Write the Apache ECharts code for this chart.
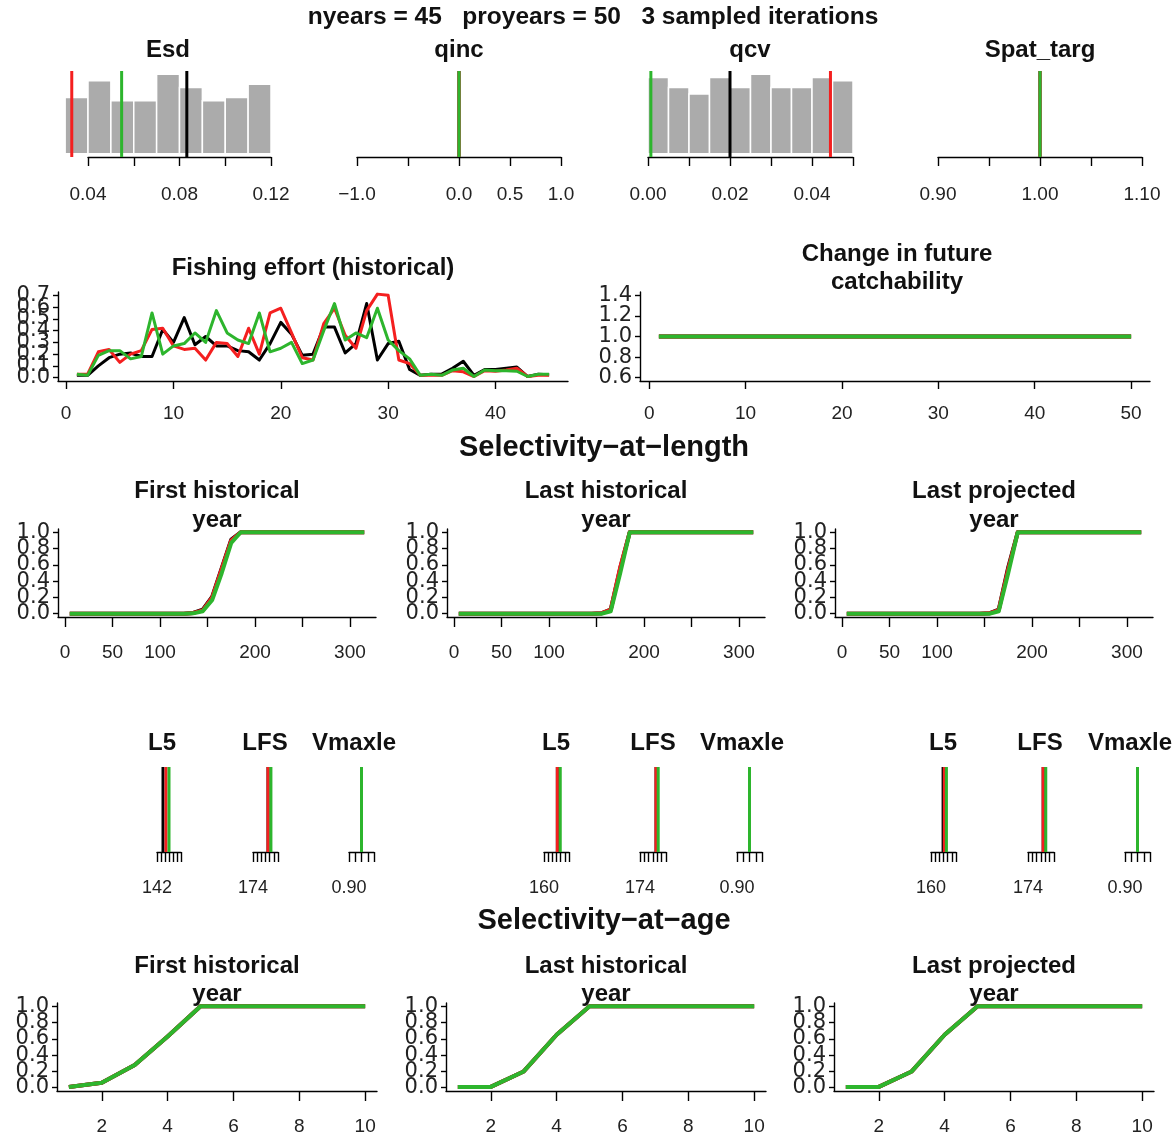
<!DOCTYPE html>
<html><head><meta charset="utf-8">
<script src="https://cdn.jsdelivr.net/npm/echarts@6/dist/echarts.min.js"></script>
<style>html,body{margin:0;padding:0;background:#fff}#c{width:1175px;height:1141px}</style>
</head><body><div id="c"></div>
<script>
// ---------------- DATA ----------------
// Row 1 histograms (bin edges, counts, and the three sampled iterations: black, red, green)
const esdEdges = [0.03,0.04,0.05,0.06,0.07,0.08,0.09,0.10,0.11,0.12];
const esdCounts = [17,22,16,16,24,20,16,17,21];
const esdSims = [0.0832,0.0329,0.0547];
const esdTicks = [0.04,0.06,0.08,0.10,0.12];
const esdLabels = [0.04,0.08,0.12];

const qincSims = [0,0,0];
const qincTicks = [-1,-0.5,0,0.5,1];
const qincLabels = [-1,0,0.5,1];

const qcvEdges = [0,0.005,0.01,0.015,0.02,0.025,0.03,0.035,0.04,0.045,0.05];
const qcvCounts = [23,20,18,23,20,24,20,20,23,22];
const qcvSims = [0.0200,0.0445,0.0007];
const qcvTicks = [0,0.01,0.02,0.03,0.04,0.05];
const qcvLabels = [0,0.02,0.04];

const spatSims = [1,1,1];
const spatTicks = [0.90,0.95,1.00,1.05,1.10];
const spatLabels = [0.90,1.00,1.10];

// Row 2: fishing effort (historical), years 1..45
const histYears = [1,2,3,4,5,6,7,8,9,10,11,12,13,14,15,16,17,18,19,20,21,22,23,24,25,26,27,28,29,30,31,32,33,34,35,36,37,38,39,40,41,42,43,44,45];
const effortBlack = [0.02,0.02,0.10,0.17,0.20,0.21,0.18,0.18,0.41,0.30,0.51,0.28,0.35,0.27,0.27,0.23,0.22,0.15,0.29,0.47,0.37,0.19,0.20,0.43,0.43,0.21,0.29,0.63,0.15,0.29,0.31,0.07,0.02,0.03,0.03,0.08,0.14,0.02,0.07,0.07,0.08,0.09,0.01,0.03,0.025];
const effortRed   = [0.03,0.03,0.22,0.24,0.13,0.20,0.23,0.41,0.42,0.27,0.24,0.25,0.15,0.30,0.29,0.18,0.42,0.20,0.55,0.59,0.38,0.17,0.15,0.46,0.59,0.36,0.25,0.57,0.71,0.70,0.15,0.12,0.02,0.02,0.02,0.06,0.05,0.01,0.06,0.055,0.065,0.08,0.01,0.02,0.02];
const effortGreen = [0.03,0.02,0.19,0.23,0.23,0.16,0.18,0.55,0.20,0.27,0.29,0.38,0.30,0.57,0.38,0.32,0.29,0.55,0.22,0.25,0.30,0.12,0.15,0.40,0.63,0.32,0.38,0.34,0.59,0.32,0.23,0.16,0.02,0.03,0.02,0.065,0.08,0.01,0.065,0.06,0.06,0.055,0.01,0.03,0.03];
const effortXTicks = [0,10,20,30,40];
const effortYTicks = [0,0.1,0.2,0.3,0.4,0.5,0.6,0.7];

// Row 2: change in future catchability, projection years 1..50
const projYears = [1,2,3,4,5,6,7,8,9,10,11,12,13,14,15,16,17,18,19,20,21,22,23,24,25,26,27,28,29,30,31,32,33,34,35,36,37,38,39,40,41,42,43,44,45,46,47,48,49,50];
const catchBlack = [1,1,1,1,1,1,1,1,1,1,1,1,1,1,1,1,1,1,1,1,1,1,1,1,1,1,1,1,1,1,1,1,1,1,1,1,1,1,1,1,1,1,1,1,1,1,1,1,1,1];
const catchRed   = [1,1,1,1,1,1,1,1,1,1,1,1,1,1,1,1,1,1,1,1,1,1,1,1,1,1,1,1,1,1,1,1,1,1,1,1,1,1,1,1,1,1,1,1,1,1,1,1,1,1];
const catchGreen = [1,1,1,1,1,1,1,1,1,1,1,1,1,1,1,1,1,1,1,1,1,1,1,1,1,1,1,1,1,1,1,1,1,1,1,1,1,1,1,1,1,1,1,1,1,1,1,1,1,1];
const catchXTicks = [0,10,20,30,40,50];
const catchYTicks = [0.6,0.8,1.0,1.2,1.4];

// Row 3: selectivity-at-length (length bins 5..315)
const lengthBins = [5,15,25,35,45,55,65,75,85,95,105,115,125,135,145,155,165,175,185,195,205,215,225,235,245,255,265,275,285,295,305,315];
const selLenFirstBlack = [0,0,0,0,0,0,0,0,0,0,0,0,0,0.01,0.05,0.21,0.56,0.91,1,1,1,1,1,1,1,1,1,1,1,1,1,1];
const selLenFirstRed   = [0,0,0,0,0,0,0,0,0,0,0,0,0,0.01,0.04,0.20,0.55,0.90,1,1,1,1,1,1,1,1,1,1,1,1,1,1];
const selLenFirstGreen = [0,0,0,0,0,0,0,0,0,0,0,0,0,0.005,0.03,0.17,0.50,0.87,1,1,1,1,1,1,1,1,1,1,1,1,1,1];
const selLenLastHBlack = [0,0,0,0,0,0,0,0,0,0,0,0,0,0,0,0.005,0.05,0.56,1,1,1,1,1,1,1,1,1,1,1,1,1,1];
const selLenLastHRed   = [0,0,0,0,0,0,0,0,0,0,0,0,0,0,0,0.005,0.05,0.57,1,1,1,1,1,1,1,1,1,1,1,1,1,1];
const selLenLastHGreen = [0,0,0,0,0,0,0,0,0,0,0,0,0,0,0,0,0.03,0.50,1,1,1,1,1,1,1,1,1,1,1,1,1,1];
const selLenLastPBlack = [0,0,0,0,0,0,0,0,0,0,0,0,0,0,0,0.005,0.05,0.57,1,1,1,1,1,1,1,1,1,1,1,1,1,1];
const selLenLastPRed   = [0,0,0,0,0,0,0,0,0,0,0,0,0,0,0,0.005,0.045,0.55,1,1,1,1,1,1,1,1,1,1,1,1,1,1];
const selLenLastPGreen = [0,0,0,0,0,0,0,0,0,0,0,0,0,0,0,0,0.03,0.50,1,1,1,1,1,1,1,1,1,1,1,1,1,1];
const lenXTicks = [0,50,100,150,200,250,300];
const lenXLabels = [0,50,100,200,300];
const selYTicks = [0,0.2,0.4,0.6,0.8,1.0];

// Row 4: L5, LFS, Vmaxlen of the three iterations (black, red, green)
const l5First = [143.5,144.25,145.0];
const l5LastHist = [163.2,163.2,163.9];
const l5LastProj = [162.9,163.2,163.7];
const lfsFirst = [177.6,177.6,178.3];
const lfsLastHist = [177.7,177.7,178.2];
const lfsLastProj = [177.5,177.5,178.1];
const vmaxFirst = [1,1,1];
const vmaxLastHist = [1,1,1];
const vmaxLastProj = [1,1,1];
const l5FirstTicks = [142,143,144,145,146,147,148];
const l5LaterTicks = [160,161,162,163,164,165,166];
const lfsTicks = [174,175,176,177,178,179,180];
const vmaxTicks = [0.90,0.95,1.00,1.05,1.10];

// Row 5: selectivity-at-age
const ages = [1,2,3,4,5,6,7,8,9,10];
const selAgeFirstBlack = [0.01,0.06,0.28,0.63,1,1,1,1,1,1];
const selAgeFirstRed   = [0.01,0.06,0.28,0.63,1,1,1,1,1,1];
const selAgeFirstGreen = [0.01,0.06,0.28,0.63,1,1,1,1,1,1];
const selAgeLastHBlack = [0.01,0.01,0.20,0.65,1,1,1,1,1,1];
const selAgeLastHRed   = [0.01,0.01,0.20,0.65,1,1,1,1,1,1];
const selAgeLastHGreen = [0.01,0.01,0.20,0.65,1,1,1,1,1,1];
const selAgeLastPBlack = [0.01,0.01,0.20,0.65,1,1,1,1,1,1];
const selAgeLastPRed   = [0.01,0.01,0.20,0.65,1,1,1,1,1,1];
const selAgeLastPGreen = [0.01,0.01,0.20,0.65,1,1,1,1,1,1];
const ageXTicks = [2,4,6,8,10];

// ---------------- STYLE / BUILD ----------------
const FONT = '"Liberation Sans", Arial, Helvetica, sans-serif';
const YFONT = '"DejaVu Sans", "Liberation Sans", sans-serif';
const BLACK = '#000000', RED = '#F41F1F', GREEN = '#2DB52D', GREY = '#ABABAB';
const SIMC = [BLACK, RED, GREEN];

const option = {animation:false, backgroundColor:'#ffffff', grid:[], xAxis:[], yAxis:[], series:[], graphic:{elements:[]}};

function fmtN(d){ return v => (v < 0 ? '\u2212' : '') + Math.abs(v).toFixed(d); }

// returns {x: xAxisIndex, y: yAxisIndex} of the panel
function addPanel(box, xc, yc){
  option.grid.push({left:box.l, top:box.t, width:box.w, height:box.h, containLabel:false});
  const gi = option.grid.length - 1;
  option.xAxis.push({
    type:'value', gridIndex:gi, min:xc.min, max:xc.max,
    axisLine:{show:true, onZero:false, lineStyle:{color:'#000', width:1.4}},
    axisTick:{show:true, inside:false, length:xc.tickLen || 10, customValues:xc.ticks, lineStyle:{color:'#000', width:1.4}},
    axisLabel:{show:true, customValues:xc.labels, formatter:xc.fmt, margin:xc.margin, fontSize:xc.fontSize || 19,
      color:'#222', fontFamily:FONT, hideOverlap:false},
    splitLine:{show:false}
  });
  const xi = option.xAxis.length - 1;
  const yi = option.yAxis.length;
  if (yc.show) {
    // split the tick labels over stacked axes so that no label of an axis overlaps its neighbour
    const k = yc.groups;
    for (let j = 0; j < k; j++) {
      const labs = yc.ticks.filter((_, i) => i % k === j);
      option.yAxis.push({
        type:'value', gridIndex:gi, min:yc.min, max:yc.max, position:'left', offset:0,
        axisLine:{show:j === 0, onZero:false, lineStyle:{color:'#000', width:1.4}},
        axisTick:{show:j === 0, inside:false, length:5, customValues:yc.ticks, lineStyle:{color:'#000', width:1.4}},
        axisLabel:{show:true, customValues:labs, formatter:yc.fmt, margin:8, fontSize:21, color:'#222',
          fontFamily:YFONT, hideOverlap:false},
        splitLine:{show:false}
      });
    }
  } else {
    option.yAxis.push({type:'value', gridIndex:gi, min:yc.min, max:yc.max, show:false, splitLine:{show:false}});
  }
  return {x:xi, y:yi};
}

function addLine(ax, xs, ys, color, width){
  option.series.push({type:'line', xAxisIndex:ax.x, yAxisIndex:ax.y, data:xs.map((x,i)=>[x, ys[i]]),
    symbol:'none', showSymbol:false, clip:false, silent:true, lineStyle:{color, width, cap:'butt', join:'round'}, itemStyle:{color}});
}

// vertical lines at each iteration's value, spanning the whole panel height (custom series, not clipped)
function addVLines(ax, vals, ymin, ymax, width){
  const data = vals.map((v,i)=>[v, i]);
  option.series.push({type:'custom', xAxisIndex:ax.x, yAxisIndex:ax.y, data, clip:false, silent:true,
    encode:{x:0},
    renderItem:(params, api)=>{
      const v = api.value(0), idx = api.value(1);
      const p0 = api.coord([v, ymin]), p1 = api.coord([v, ymax]);
      return {type:'line', shape:{x1:p0[0], y1:p0[1], x2:p1[0], y2:p1[1]},
        style:{stroke:SIMC[idx], lineWidth:width, lineCap:'butt'}};
    }});
}

function addHist(ax, edges, counts){
  const data = counts.map((c,i)=>[edges[i], edges[i+1], c]);
  option.series.push({type:'custom', xAxisIndex:ax.x, yAxisIndex:ax.y, data, clip:false, silent:true,
    encode:{x:[0,1], y:2},
    renderItem:(params, api)=>{
      const p0 = api.coord([api.value(0), 0]);
      const p1 = api.coord([api.value(1), api.value(2)]);
      return {type:'rect', shape:{x:p0[0], y:p1[1], width:p1[0]-p0[0], height:p0[1]-p1[1]},
        style:{fill:GREY, stroke:'#ffffff', lineWidth:1.5}};
    }});
}

function txt(x, y, s, size, opts){
  opts = opts || {};
  const st = {text:s, fill:'#111', font:'bold ' + size + 'px ' + FONT,
    textAlign:opts.align || 'center', align:opts.align || 'center',
    textVerticalAlign:'middle', verticalAlign:'middle'};
  if (opts.width) { st.width = opts.width; st.overflow = 'truncate'; st.ellipsis = ''; }
  option.graphic.elements.push({type:'text', x, y, silent:true, style:st});
}

// ---- Row 1: histograms ----
const HT = 71, HH = 86, HM = 28;
{
  const ymax = Math.max(...esdCounts) * 1.04, ymin = -Math.max(...esdCounts) * 0.04;
  const a = addPanel({l:88, t:HT, w:183, h:HH},
    {min:0.04, max:0.12, ticks:esdTicks, labels:esdLabels, fmt:fmtN(2), margin:HM, tickLen:9},
    {show:false, min:ymin, max:ymax});
  addHist(a, esdEdges, esdCounts);
  addVLines(a, esdSims, ymin, ymax, 3);
}
{
  const a = addPanel({l:357, t:HT, w:204, h:HH},
    {min:-1, max:1, ticks:qincTicks, labels:qincLabels, fmt:fmtN(1), margin:HM, tickLen:9},
    {show:false, min:0, max:1});
  addVLines(a, qincSims, 0, 1, 3);
}
{
  const ymax = Math.max(...qcvCounts) * 1.04, ymin = -Math.max(...qcvCounts) * 0.04;
  const a = addPanel({l:648, t:HT, w:205, h:HH},
    {min:0, max:0.05, ticks:qcvTicks, labels:qcvLabels, fmt:fmtN(2), margin:HM, tickLen:9},
    {show:false, min:ymin, max:ymax});
  addHist(a, qcvEdges, qcvCounts);
  addVLines(a, qcvSims, ymin, ymax, 3);
}
{
  const a = addPanel({l:938, t:HT, w:204, h:HH},
    {min:0.9, max:1.1, ticks:spatTicks, labels:spatLabels, fmt:fmtN(2), margin:HM, tickLen:9},
    {show:false, min:0, max:1});
  addVLines(a, spatSims, 0, 1, 3);
}

// ---- Row 2 ----
{
  const a = addPanel({l:58, t:292, w:510, h:89},
    {min:-0.76, max:46.76, ticks:effortXTicks, labels:effortXTicks, fmt:fmtN(0), margin:23, tickLen:8},
    {show:true, min:-0.028, max:0.728, ticks:effortYTicks, fmt:fmtN(1), groups:3});
  addLine(a, histYears, effortBlack, BLACK, 3);
  addLine(a, histYears, effortRed, RED, 3);
  addLine(a, histYears, effortGreen, GREEN, 3);
}
{
  const a = addPanel({l:640, t:292, w:510, h:89},
    {min:-0.96, max:51.96, ticks:catchXTicks, labels:catchXTicks, fmt:fmtN(0), margin:23, tickLen:8},
    {show:true, min:0.568, max:1.432, ticks:catchYTicks, fmt:fmtN(1), groups:2});
  addLine(a, projYears, catchBlack, BLACK, 4);
  addLine(a, projYears, catchRed, RED, 4);
  addLine(a, projYears, catchGreen, GREEN, 4);
}

// ---- Row 3: selectivity at length ----
const lenPanels = [
  [58, selLenFirstBlack, selLenFirstRed, selLenFirstGreen],
  [447, selLenLastHBlack, selLenLastHRed, selLenLastHGreen],
  [835, selLenLastPBlack, selLenLastPRed, selLenLastPGreen]
];
lenPanels.forEach(p=>{
  const a = addPanel({l:p[0], t:529, w:318, h:88},
    {min:-7.4, max:327.4, ticks:lenXTicks, labels:lenXLabels, fmt:fmtN(0), margin:26, tickLen:10},
    {show:true, min:-0.04, max:1.04, ticks:selYTicks, fmt:fmtN(1), groups:2});
  addLine(a, lengthBins, p[1], BLACK, 4);
  addLine(a, lengthBins, p[2], RED, 4);
  addLine(a, lengthBins, p[3], GREEN, 4);
});

// ---- Row 4: L5 / LFS / Vmaxlen ----
const combPanels = [
  [157, 24, l5FirstTicks, l5First, 0],
  [253, 25, lfsTicks, lfsFirst, 0],
  [349, 25, vmaxTicks, vmaxFirst, 2],
  [544, 25, l5LaterTicks, l5LastHist, 0],
  [640, 26, lfsTicks, lfsLastHist, 0],
  [737, 25, vmaxTicks, vmaxLastHist, 2],
  [931, 25, l5LaterTicks, l5LastProj, 0],
  [1028, 26, lfsTicks, lfsLastProj, 0],
  [1125, 25, vmaxTicks, vmaxLastProj, 2]
];
combPanels.forEach(p=>{
  const t = p[2];
  const a = addPanel({l:p[0], t:767, w:p[1], h:85},
    {min:t[0], max:t[t.length-1], ticks:t, labels:[t[0]], fmt:fmtN(p[4]), margin:27, tickLen:10, fontSize:18},
    {show:false, min:0, max:1});
  addVLines(a, p[3], 0, 1, 3);
});

// ---- Row 5: selectivity at age ----
const agePanels = [
  [57, selAgeFirstBlack, selAgeFirstRed, selAgeFirstGreen],
  [446, selAgeLastHBlack, selAgeLastHRed, selAgeLastHGreen],
  [834, selAgeLastPBlack, selAgeLastPRed, selAgeLastPGreen]
];
agePanels.forEach(p=>{
  const a = addPanel({l:p[0], t:1003, w:320, h:88},
    {min:0.64, max:10.36, ticks:ageXTicks, labels:ageXTicks, fmt:fmtN(0), margin:26, tickLen:10},
    {show:true, min:-0.04, max:1.04, ticks:selYTicks, fmt:fmtN(1), groups:2});
  addLine(a, ages, p[1], BLACK, 4);
  addLine(a, ages, p[2], RED, 4);
  addLine(a, ages, p[3], GREEN, 4);
});

// ---- Titles ----
txt(593, 17, 'nyears = 45   proyears = 50   3 sampled iterations', 24.5);
txt(168, 50, 'Esd', 24);
txt(459, 50, 'qinc', 24);
txt(750, 50, 'qcv', 24);
txt(1040, 50, 'Spat_targ', 24);
txt(313, 268, 'Fishing effort (historical)', 24);
txt(897, 254, 'Change in future', 24);
txt(897, 282, 'catchability', 24);
txt(604, 448, 'Selectivity\u2212at\u2212length', 29);
[[217,'First historical'],[606,'Last historical'],[994,'Last projected']].forEach(a=>{
  txt(a[0], 491, a[1], 24); txt(a[0], 520, 'year', 24);
});
[[162,265,312],[556,653,700],[943,1040,1088]].forEach(a=>{
  txt(a[0], 743, 'L5', 24);
  txt(a[1], 743, 'LFS', 24);
  txt(a[2], 743, 'Vmaxlen', 24, {align:'left', width:88});
});
txt(604, 921, 'Selectivity\u2212at\u2212age', 29);
[[217,'First historical'],[606,'Last historical'],[994,'Last projected']].forEach(a=>{
  txt(a[0], 966, a[1], 24); txt(a[0], 994, 'year', 24);
});

const chart = echarts.init(document.getElementById('c'), null, {renderer:'canvas'});
chart.setOption(option);
</script>
</body></html>
